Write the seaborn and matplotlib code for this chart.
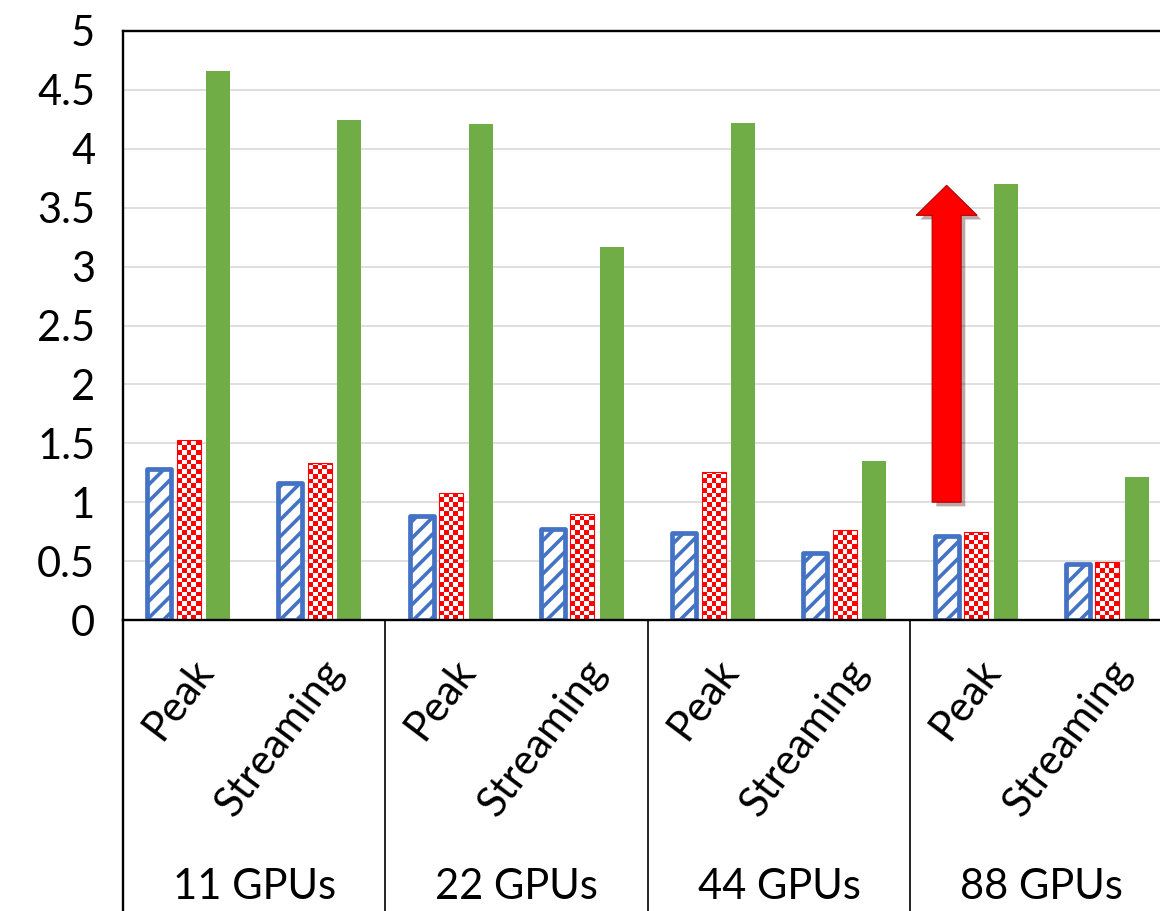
import numpy as np
import pandas as pd
import matplotlib
matplotlib.use("Agg")
import matplotlib.pyplot as plt
import seaborn as sns
from matplotlib.patches import FancyArrow
import matplotlib.patheffects as pe
from matplotlib.transforms import ScaledTranslation
from matplotlib.colors import ListedColormap

# ---------------- data ----------------
gpu_groups = ["11 GPUs", "22 GPUs", "44 GPUs", "88 GPUs"]
modes = ["Peak", "Streaming"]
series_names = ["Series 1", "Series 2", "Series 3"]
series_1 = [1.28, 1.16, 0.88, 0.77, 0.74, 0.57, 0.71, 0.475]
series_2 = [1.53, 1.33, 1.08, 0.90, 1.26, 0.76, 0.75, 0.49]
series_3 = [4.66, 4.245, 4.21, 3.17, 4.22, 1.35, 3.70, 1.21]
y_ticks = [0, 0.5, 1, 1.5, 2, 2.5, 3, 3.5, 4, 4.5, 5]
y_tick_labels = ["0", "0.5", "1", "1.5", "2", "2.5", "3", "3.5", "4", "4.5", "5"]
arrow_start = 1.0
arrow_end = 3.69

categories = [f"{g} {m}" for g in gpu_groups for m in modes]
mode_labels = [m for g in gpu_groups for m in modes]
df = pd.DataFrame({
    "category": categories * 3,
    "series": np.repeat(series_names, len(categories)),
    "value": series_1 + series_2 + series_3,
})

# ---------------- style ----------------
sns.set_theme(style="white")
plt.rcParams["font.family"] = ["Lato", "DejaVu Sans"]
plt.rcParams["hatch.linewidth"] = 2.6

W, H = 1160, 911
fig = plt.figure(figsize=(W / 100, H / 100), dpi=100)
ax_left, ax_bottom, ax_w, ax_h = 123, 291, 1050, 589
ax = fig.add_axes([ax_left / W, ax_bottom / H, ax_w / W, ax_h / H])

blue, red, green = "#4472C4", "#FF0000", "#70AD47"
palette = dict(zip(series_names, [blue, red, green]))

sns.barplot(data=df, x="category", y="value", hue="series", order=categories,
            hue_order=series_names, palette=palette, width=0.674, gap=0.19,
            saturation=1, legend=False, ax=ax, zorder=3)

px_x = ax_w / 8.0   # pixels per x unit
px_y = ax_h / 5.0   # pixels per y unit
cell_px = 4.7
checker_cmap = ListedColormap(["white", red])

# blue hatched bars
for p in ax.containers[0]:
    p.set_facecolor("white")
    p.set_edgecolor(blue)
    p.set_hatch("//")
    if hasattr(p, "set_hatch_linewidth"):
        p.set_hatch_linewidth(2.6)
    p.set_linewidth(3.4)
    p.set_joinstyle("round")

# red checkered bars
for p in ax.containers[1]:
    p.set_facecolor("none")
    p.set_edgecolor(red)
    p.set_linewidth(0.8)
    p.set_zorder(3.2)
    x0, w, h = p.get_x(), p.get_width(), p.get_height()
    ncol = max(1, int(round(w * px_x / cell_px)))
    cy = cell_px / px_y
    nrow = int(np.ceil(h / cy)) + 1
    arr = np.add.outer(np.arange(nrow), np.arange(ncol)) % 2
    im = ax.imshow(arr, cmap=checker_cmap, extent=[x0, x0 + w, 0, nrow * cy],
                   origin="lower", interpolation="nearest", aspect="auto",
                   zorder=3.1)
    im.set_clip_path(p)

# green solid bars
for p in ax.containers[2]:
    p.set_edgecolor("none")
    p.set_facecolor(green)

# ---------------- axes ----------------
FS = 30
ax.set_xlim(-0.5, 7.5)
ax.set_ylim(0, 5)
ax.set_yticks(y_ticks)
ax.set_yticklabels(y_tick_labels, fontsize=FS, color="black")
ax.tick_params(axis="y", length=0, pad=20)
ax.set_xticks(range(len(categories)))
ax.set_xticklabels([])
ax.tick_params(axis="x", length=0)
ax.set_xlabel("")
ax.set_ylabel("")
ax.yaxis.grid(True, color="#D9D9D9", linewidth=1.2)
ax.set_axisbelow(True)
for side in ["left", "top", "bottom"]:
    ax.spines[side].set_color("black")
    ax.spines[side].set_linewidth(1.7)
    ax.spines[side].set_zorder(4)
ax.spines["right"].set_visible(False)

# category axis: dividers and labels
xtrans = ax.get_xaxis_transform()
below = -ax_bottom / ax_h
for k, xd in enumerate([-0.5, 1.5, 3.5, 5.5]):
    ax.plot([xd, xd], [0, below], transform=xtrans, color="black",
            lw=1.7 if k == 0 else 1.2, clip_on=False, zorder=4)

offset = ScaledTranslation(16 / 100, -44 / 100, fig.dpi_scale_trans)
for i, lab in enumerate(mode_labels):
    ax.text(i, 0, lab, transform=xtrans + offset, rotation=53,
            rotation_mode="anchor", ha="right", va="center", fontsize=FS,
            color="black")

for g, lab in enumerate(gpu_groups):
    ax.text(2 * g + 0.5, (620 - 887) / ax_h, lab, transform=xtrans,
            ha="center", va="center", fontsize=FS, color="black")

# ---------------- arrow annotation ----------------
bp = ax.containers[0][6]
ax_x = bp.get_x() + bp.get_width() / 2
arrow = FancyArrow(ax_x, arrow_start, 0, arrow_end - arrow_start,
                   width=29 / px_x, head_width=61 / px_x, head_length=30 / px_y,
                   length_includes_head=True, facecolor=red, edgecolor="#B00000",
                   linewidth=0.8, zorder=5,
                   path_effects=[pe.SimplePatchShadow(offset=(3, -3), alpha=0.35),
                                 pe.Normal()])
ax.add_patch(arrow)

fig.savefig("out.png", dpi=100)
